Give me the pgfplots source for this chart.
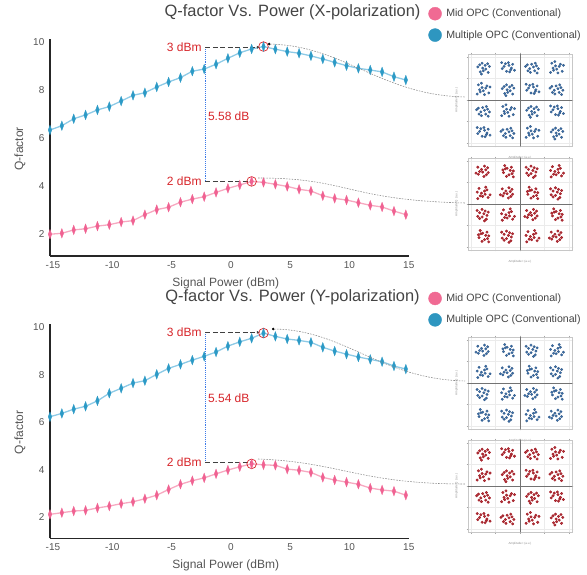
\documentclass[border=0pt]{standalone}
\usepackage{fontspec}
\setmainfont{Liberation Sans}
\usepackage{pgfplots}
\pgfplotsset{compat=1.18}
\usepackage{pgfplotstable}
\usetikzlibrary{arrows.meta}

\definecolor{pinkM}{HTML}{F06292}
\definecolor{pinkL}{HTML}{F7A8C0}
\definecolor{blueM}{HTML}{2C9AC6}
\definecolor{blueL}{HTML}{8DCAE6}
\definecolor{legpink}{HTML}{F06A93}
\definecolor{legblue}{HTML}{2E96C0}
\definecolor{annred}{HTML}{D7262B}
\definecolor{txtgray}{HTML}{555555}
\definecolor{titlegray}{HTML}{444444}
\definecolor{constblue}{HTML}{3A6EA8}
\definecolor{constred}{HTML}{A0111A}
\definecolor{vblue}{HTML}{3D7BE8}
\definecolor{curvegray}{HTML}{8A8A8A}

\tikzset{annot/.style={font=\fontsize{12}{14}\selectfont, text=annred, inner sep=0pt}}

\pgfplotstableread{
x mid mult
-15.25 1.97 6.33
-14.25 2.01 6.51
-13.25 2.15 6.80
-12.25 2.20 6.96
-11.25 2.31 7.17
-10.25 2.37 7.31
-9.25 2.48 7.54
-8.25 2.54 7.78
-7.25 2.79 7.89
-6.25 3.00 8.13
-5.25 3.10 8.34
-4.25 3.31 8.52
-3.25 3.44 8.79
-2.25 3.54 8.88
-1.25 3.72 9.08
-0.25 3.89 9.33
0.75 4.03 9.56
1.75 4.18 9.72
2.75 4.14 9.82
3.75 4.06 9.71
4.75 3.97 9.61
5.75 3.85 9.54
6.75 3.78 9.43
7.75 3.58 9.30
8.75 3.47 9.16
9.75 3.40 9.02
10.75 3.29 8.91
11.75 3.18 8.84
12.75 3.11 8.76
13.75 2.94 8.56
14.75 2.79 8.42
}\xpol

\pgfplotstableread{
x mid mult
-15.25 2.11 6.23
-14.25 2.18 6.37
-13.25 2.25 6.55
-12.25 2.28 6.67
-11.25 2.38 6.90
-10.25 2.46 7.22
-9.25 2.56 7.43
-8.25 2.64 7.65
-7.25 2.77 7.75
-6.25 2.92 8.02
-5.25 3.16 8.27
-4.25 3.38 8.44
-3.25 3.53 8.62
-2.25 3.65 8.78
-1.25 3.82 8.96
-0.25 3.98 9.21
0.75 4.12 9.39
1.75 4.24 9.54
2.75 4.20 9.76
3.75 4.18 9.62
4.75 4.02 9.51
5.75 3.97 9.45
6.75 3.88 9.37
7.75 3.67 9.16
8.75 3.56 9.00
9.75 3.47 8.87
10.75 3.38 8.75
11.75 3.22 8.65
12.75 3.14 8.55
13.75 3.09 8.37
14.75 2.92 8.24
}\ypol

\pgfplotstableread{
x y
1.10 1.20
0.70 1.10
1.25 0.80
0.90 0.65
1.40 1.30
0.55 0.90
1.05 1.45
1.30 0.95
0.80 1.35
1.15 0.60
1.55 0.75
0.50 1.45
2.80 0.90
3.35 1.15
2.95 1.30
3.20 0.70
2.60 1.25
3.50 0.90
2.85 0.55
3.10 1.05
2.65 0.70
3.25 1.40
2.45 1.10
3.40 0.50
5.30 1.30
4.75 0.75
5.00 0.85
4.60 1.40
5.45 0.65
4.90 1.15
5.20 1.10
4.70 0.95
5.10 0.50
5.55 1.20
4.85 1.55
4.50 0.55
6.90 1.40
7.20 0.85
6.55 1.05
7.35 1.35
7.00 0.70
6.75 0.60
7.40 0.55
6.70 1.25
7.15 1.20
6.95 0.95
7.50 1.10
6.85 0.40
0.80 2.90
1.35 3.15
0.95 3.30
1.20 2.70
0.60 3.25
1.50 2.90
0.85 2.55
1.10 3.05
0.65 2.70
1.25 3.40
0.45 3.10
1.40 2.50
3.30 3.30
2.75 2.75
3.00 2.85
2.60 3.40
3.45 2.65
2.90 3.15
3.20 3.10
2.70 2.95
3.10 2.50
3.55 3.20
2.85 3.55
2.50 2.55
4.90 3.40
5.20 2.85
4.55 3.05
5.35 3.35
5.00 2.70
4.75 2.60
5.40 2.55
4.70 3.25
5.15 3.20
4.95 2.95
5.50 3.10
4.85 2.40
7.10 3.20
6.70 3.10
7.25 2.80
6.90 2.65
7.40 3.30
6.55 2.90
7.05 3.45
7.30 2.95
6.80 3.35
7.15 2.60
7.55 2.75
6.50 3.45
1.30 5.30
0.75 4.75
1.00 4.85
0.60 5.40
1.45 4.65
0.90 5.15
1.20 5.10
0.70 4.95
1.10 4.50
1.55 5.20
0.85 5.55
0.50 4.55
2.90 5.40
3.20 4.85
2.55 5.05
3.35 5.35
3.00 4.70
2.75 4.60
3.40 4.55
2.70 5.25
3.15 5.20
2.95 4.95
3.50 5.10
2.85 4.40
5.10 5.20
4.70 5.10
5.25 4.80
4.90 4.65
5.40 5.30
4.55 4.90
5.05 5.45
5.30 4.95
4.80 5.35
5.15 4.60
5.55 4.75
4.50 5.45
6.80 4.90
7.35 5.15
6.95 5.30
7.20 4.70
6.60 5.25
7.50 4.90
6.85 4.55
7.10 5.05
6.65 4.70
7.25 5.40
6.45 5.10
7.40 4.50
0.90 7.40
1.20 6.85
0.55 7.05
1.35 7.35
1.00 6.70
0.75 6.60
1.40 6.55
0.70 7.25
1.15 7.20
0.95 6.95
1.50 7.10
0.85 6.40
3.10 7.20
2.70 7.10
3.25 6.80
2.90 6.65
3.40 7.30
2.55 6.90
3.05 7.45
3.30 6.95
2.80 7.35
3.15 6.60
3.55 6.75
2.50 7.45
4.80 6.90
5.35 7.15
4.95 7.30
5.20 6.70
4.60 7.25
5.50 6.90
4.85 6.55
5.10 7.05
4.65 6.70
5.25 7.40
4.45 7.10
5.40 6.50
7.30 7.30
6.75 6.75
7.00 6.85
6.60 7.40
7.45 6.65
6.90 7.15
7.20 7.10
6.70 6.95
7.10 6.50
7.55 7.20
6.85 7.55
6.50 6.55
}\const

\pgfplotsset{
  mainax/.style={
    anchor=south west, width=358.8pt, scale only axis,
    xmin=-15.25, xmax=15,
    axis lines=left,
    axis line style={-, line width=1.6pt, draw=black!85},
    xtick={-15,-10,...,15}, ytick={2,4,6,8,10},
    tick style={draw=none},
    tick label style={font=\fontsize{10}{12}\selectfont, text=txtgray},
    /pgf/number format/assume math mode=true,
    every axis x label/.style={at={(axis description cs:0.49,-0.125)}, anchor=center, font=\fontsize{12}{14}\selectfont, text=txtgray},
    every axis y label/.style={at={(axis description cs:-0.084,0.495)}, rotate=90, anchor=center, font=\fontsize{12}{14}\selectfont, text=txtgray},
    title style={font=\fontsize{16.4}{19}\selectfont, text=titlegray, anchor=center, at={(axis description cs:0.676,1.099)}},
    xlabel={Signal Power (dBm)}, ylabel={Q-factor},
    clip=false,
    legend style={draw=none, fill=none, inner sep=0pt, font=\fontsize{10.6}{12.5}\selectfont, text=titlegray, row sep=8pt, column sep=4.5pt, nodes={inner sep=0pt}, anchor=north west},
    legend cell align=left,
  },
  midplot/.style={pinkL, line width=1.3pt, mark=diamond*, mark size=4.8pt, mark options={xscale=0.5, fill=pinkM, draw=pinkM, line width=0.3pt}},
  multplot/.style={blueL, line width=1.3pt, mark=diamond*, mark size=4.8pt, mark options={xscale=0.5, fill=blueM, draw=blueM, line width=0.3pt}},
  inset/.style={
    anchor=south west, width=104pt, height=92pt, scale only axis,
    xmin=-0.25, xmax=8.25, ymin=-0.25, ymax=8.25,
    xtick={0,2,4,6,8}, ytick={0,2,4,6,8},
    xticklabels={}, yticklabels={},
    grid=major, major grid style={draw=black!8, line width=0.3pt},
    axis line style={draw=black!22, line width=0.4pt},
    tick style={draw=black!35, line width=0.3pt},
    major tick length=1.5pt, tick align=outside,
    extra x ticks={4}, extra y ticks={4},
    extra x tick labels={}, extra y tick labels={},
    extra tick style={major grid style={draw=black!55, line width=0.6pt}},
    xlabel={Amplitude I (a.u.)}, ylabel={Amplitude Q (a.u.)},
    label style={font=\fontsize{3}{3.5}\selectfont, text=black!45},
    xlabel style={yshift=5pt}, ylabel style={yshift=-5pt},
  },
  bluescatter/.style={only marks, mark=*, mark size=1.3pt, mark options={fill=constblue, draw=constblue!75!black, line width=0.2pt}},
  redscatter/.style={only marks, mark=*, mark size=1.3pt, mark options={fill=constred!85, draw=constred, line width=0.3pt}},
}

\begin{document}
\begin{tikzpicture}[x=1pt, y=1pt]
\path[use as bounding box] (0pt,0pt) rectangle (587pt,574pt);

% ---------- X polarization ----------
\begin{axis}[mainax, at={(50pt,318pt)}, height=216.6pt, ymin=1.06, ymax=10.12,
  title={Q-factor Vs. Power (X-polarization)},
  legend style={at={(1.054,1.1505)}}]
\addlegendimage{legend image code/.code={\fill[legpink] (6.5pt,0pt) circle (6.5pt);}}
\addlegendentry{Mid OPC (Conventional)}
\addlegendimage{legend image code/.code={\fill[legblue] (6.5pt,0pt) circle (6.5pt);}}
\addlegendentry{Multiple OPC (Conventional)}
\addplot[midplot, forget plot] table[x=x, y=mid]{\xpol};
\addplot[multplot, forget plot] table[x=x, y=mult]{\xpol};
\draw[vblue, densely dotted, line width=0.9pt] (axis cs:-2.15,9.79) -- (axis cs:-2.15,4.17);
\draw[black!75, dash pattern=on 5pt off 2.5pt, line width=1pt, -{Latex[length=3pt,width=3pt]}] (axis cs:-2.15,9.79) -- (axis cs:2.45,9.79);
\draw[black!75, dash pattern=on 5pt off 2.5pt, line width=1pt, -{Latex[length=3pt,width=3pt]}] (axis cs:-2.15,4.17) -- (axis cs:1.9,4.17);
\draw[annred, line width=0.7pt] (axis cs:2.75,9.82) circle (4.8pt);
\draw[annred, line width=0.7pt] (axis cs:1.75,4.18) circle (4.8pt);
\node[annot, anchor=east] at (axis cs:-2.45,9.79) {3 dBm};
\node[annot, anchor=west] at (axis cs:-1.94,6.92) {5.58 dB};
\node[annot, anchor=east] at (axis cs:-2.45,4.17) {2 dBm};
\end{axis}

% ---------- Y polarization ----------
\begin{axis}[mainax, at={(50pt,35.7pt)}, height=214pt, ymin=1.1, ymax=10.13,
  title={Q-factor Vs. Power (Y-polarization)},
  legend style={at={(1.054,1.153)}}]
\addlegendimage{legend image code/.code={\fill[legpink] (6.5pt,0pt) circle (6.5pt);}}
\addlegendentry{Mid OPC (Conventional)}
\addlegendimage{legend image code/.code={\fill[legblue] (6.5pt,0pt) circle (6.5pt);}}
\addlegendentry{Multiple OPC (Conventional)}
\addplot[midplot, forget plot] table[x=x, y=mid]{\ypol};
\addplot[multplot, forget plot] table[x=x, y=mult]{\ypol};
\draw[vblue, densely dotted, line width=0.9pt] (axis cs:-2.15,9.79) -- (axis cs:-2.15,4.29);
\draw[black!75, dash pattern=on 5pt off 2.5pt, line width=1pt, -{Latex[length=3pt,width=3pt]}] (axis cs:-2.15,9.79) -- (axis cs:2.45,9.79);
\draw[black!75, dash pattern=on 5pt off 2.5pt, line width=1pt, -{Latex[length=3pt,width=3pt]}] (axis cs:-2.15,4.29) -- (axis cs:1.9,4.29);
\draw[annred, line width=0.7pt] (axis cs:2.75,9.76) circle (4.8pt);
\draw[annred, line width=0.7pt] (axis cs:1.75,4.24) circle (4.8pt);
\node[annot, anchor=east] at (axis cs:-2.45,9.79) {3 dBm};
\node[annot, anchor=west] at (axis cs:-1.94,7.02) {5.54 dB};
\node[annot, anchor=east] at (axis cs:-2.45,4.29) {2 dBm};
\end{axis}

% ---------- constellation insets ----------
\begin{axis}[inset, at={(468pt,428pt)}]
\addplot[bluescatter] table[x=x, y=y]{\const};
\end{axis}
\begin{axis}[inset, at={(468pt,324pt)}]
\addplot[redscatter] table[x=y, y=x]{\const};
\end{axis}
\begin{axis}[inset, at={(468pt,145pt)}]
\addplot[bluescatter] table[x=y, y=x]{\const};
\end{axis}
\begin{axis}[inset, at={(468pt,42pt)}]
\addplot[redscatter] table[x=x, y=y]{\const};
\end{axis}

% ---------- connector curves ----------
\begin{scope}[curvegray, dash pattern=on 1.6pt off 1.2pt, line width=0.55pt]
\draw[{Circle[length=2.4pt,black]}-] (268pt,530pt) .. controls (345pt,528pt) and (380pt,479pt) .. (465pt,477pt);
\draw (258pt,396pt) .. controls (350pt,396pt) and (345pt,374pt) .. (465pt,371pt);
\draw[{Circle[length=2.4pt,black]}-] (272pt,245pt) .. controls (345pt,244pt) and (380pt,195pt) .. (465pt,193pt);
\draw (258pt,115pt) .. controls (340pt,112pt) and (360pt,90pt) .. (465pt,90pt);
\end{scope}
\end{tikzpicture}
\end{document}
